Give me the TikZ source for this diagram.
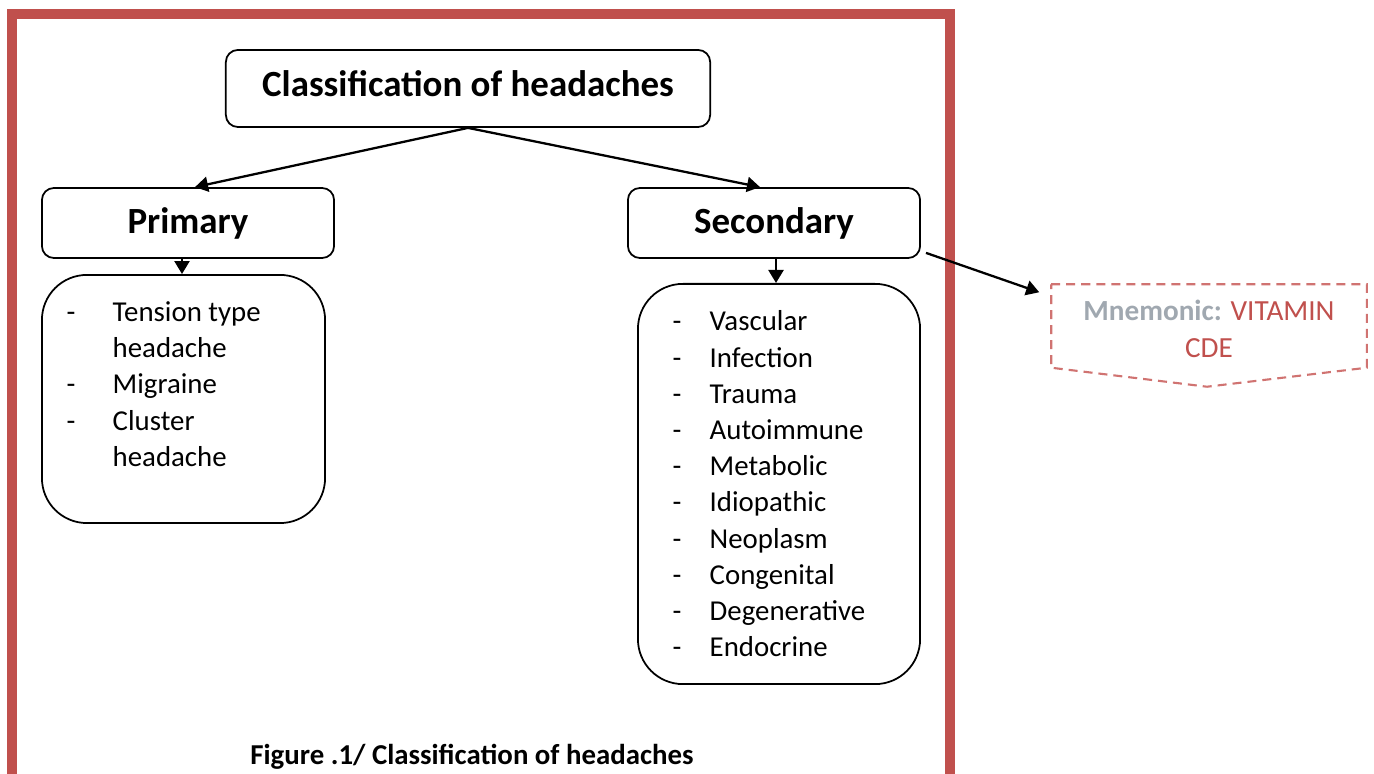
\documentclass[tikz,border=0pt]{standalone}
\usepackage{fontspec}
\setmainfont{Carlito}
\usetikzlibrary{arrows.meta,calc}
\definecolor{framered}{RGB}{192,80,77}
\definecolor{mnemred}{RGB}{208,115,113}
\definecolor{mnemgrey}{RGB}{160,168,176}

\begin{document}
\begin{tikzpicture}[x=0.01cm, y=-0.01cm, >={Triangle[length=1.3mm,width=1.5mm]}]
	\tikzset{
		headbox/.style={draw, rounded corners=1.2mm, line width=0.5pt, inner sep=0pt, font=\fontsize{10.5}{12}\selectfont\bfseries},
		listbox/.style={draw, rounded corners=4.5mm, line width=0.5pt, inner sep=0pt},
		item/.style={anchor=base west, inner sep=0pt, font=\fontsize{8.2}{10}\selectfont},
		conn/.style={->, line width=0.65pt},
		mnembox/.style={draw=mnemred, line width=0.6pt, dash pattern=on 0.09cm off 0.06cm}
	}
	\useasboundingbox (0,0) rectangle (1374,774);
	\draw[framered, line width=0.1cm] (12,774) -- (12,14.5) -- (950,14.5) -- (950,774);

	\node[headbox, minimum width=4.84cm, minimum height=0.77cm, text depth=3pt] (title) at (468,88.5) {Classification of headaches};
	\node[headbox, minimum width=2.92cm, minimum height=0.70cm] (primary) at (188,223) {Primary};
	\node[headbox, minimum width=2.92cm, minimum height=0.70cm] (secondary) at (774,223) {Secondary};
	\node[listbox, minimum width=2.83cm, minimum height=2.48cm] (primlist) at (183.5,399) {};
	\node[listbox, minimum width=2.82cm, minimum height=4.00cm] (seclist) at (779,484) {};

	\draw[conn] (title.south) -- ($(primary.north)+(7,0)$);
	\draw[conn] (title.south) -- ($(secondary.north)+(-14,0)$);
	\draw[conn] ($(primary.south)+(-6,0)$) -- ($(primlist.north)+(-1.5,0)$);
	\draw[conn] ($(secondary.south)+(2,0)$) -- ($(seclist.north)+(-3,0)$);

	% primary causes
	\foreach \y/\d/\txt [count=\i] in {322/-/Tension type, 358//headache, 394/-/Migraine, 431/-/Cluster, 467//headache} {
		\node[item] (pd\i) at (66,\y) {\d};
		\node[item] (pt\i) at (112,\y) {\txt};
	}
	% secondary causes
	\foreach \txt [count=\i] in {Vascular, Infection, Trauma, Autoimmune, Metabolic, Idiopathic, Neoplasm, Congenital, Degenerative, Endocrine} {
		\node[item] (sd\i) at (672,294.8+36.2*\i) {-};
		\node[item] (st\i) at (709,294.8+36.2*\i) {\txt};
	}

	% mnemonic
	\node[minimum width=3.14cm, minimum height=0.82cm, inner sep=0pt, align=center, text=framered,
		font=\fontsize{8.3}{10.5}\selectfont] (mnem) at (1209,329) {{\color{mnemgrey}\bfseries Mnemonic:} VITAMIN\\CDE};
	\draw[mnembox] ($(mnem.north west)+(0,-3)$) -- ($(mnem.north east)+(0,-3)$) -- ($(mnem.south east)+(0,-3)$)
		-- ($(mnem.south)+(-2,16)$) -- ($(mnem.south west)+(0,-3)$) -- cycle;
	\draw[conn] ($(secondary.south east)+(5,-6)$) -- ($(mnem.north west)+(-12,5)$);

	\node[font=\fontsize{8.2}{10}\selectfont\bfseries] (caption) at (472,757) {Figure .1/ Classification of headaches};
\end{tikzpicture}
\end{document}
